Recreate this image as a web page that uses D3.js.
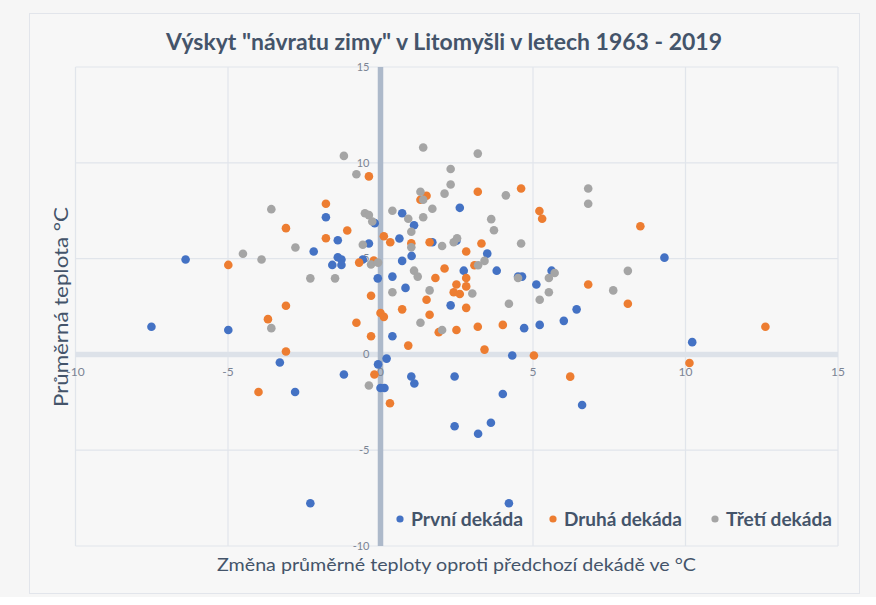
<!DOCTYPE html>
<html>
<head>
<meta charset="utf-8">
<script src="https://cdn.jsdelivr.net/npm/d3@7"></script>
<style>
  html, body { margin: 0; padding: 0; background: #f6f6f6; }
  svg { display: block; font-family: Lato, "Noto Sans", sans-serif; }
</style>
</head>
<body>
<div id="chart"></div>
<script>
// Data: [změna teploty oproti předchozí dekádě, průměrná teplota]
const prvniDekada = [
  [-6.39, 4.95], [-7.51, 1.44], [-4.99, 1.27], [-1.79, 7.16], [-1.40, 5.96],
  [-2.19, 5.37], [-1.40, 5.07], [-1.28, 4.95], [-1.58, 4.67], [-1.28, 4.67],
  [-0.58, 4.95], [-0.38, 5.79], [-0.19, 6.85], [-0.09, 3.97], [-3.30, -0.42],
  [0.71, 7.37], [2.60, 7.65], [1.10, 6.74], [0.62, 6.05], [1.70, 5.85],
  [2.49, 5.93], [1.02, 5.14], [0.71, 4.88], [3.50, 5.26], [0.39, 4.06],
  [0.82, 3.47], [2.73, 4.37], [3.81, 4.37], [4.51, 4.06], [4.64, 4.06],
  [5.11, 3.65], [5.61, 4.37], [2.30, 2.56], [0.39, 0.95], [6.43, 2.35],
  [6.01, 1.75], [5.22, 1.54], [4.71, 1.37], [4.32, -0.06], [0.20, -0.22],
  [9.31, 5.05], [10.22, 0.64], [-1.20, -1.05], [-0.08, -0.52], [0.00, -1.75],
  [0.13, -1.75], [-2.80, -1.96], [1.01, -1.15], [1.11, -1.52], [2.43, -1.15],
  [4.01, -2.07], [2.43, -3.75], [3.20, -4.14], [3.62, -3.57], [-2.30, -7.77],
  [4.21, -7.77], [6.61, -2.64]
];
const druhaDekada = [
  [-0.38, 9.29], [-1.79, 7.86], [-3.10, 6.59], [-1.79, 6.06], [-1.09, 6.47],
  [0.11, 6.17], [-4.99, 4.67], [-0.70, 4.79], [-0.22, 4.90], [-0.31, 3.06],
  [-3.10, 2.54], [-3.69, 1.84], [-0.79, 1.65], [0.00, 2.16], [0.11, 1.96],
  [-0.31, 0.95], [-3.10, 0.15], [1.31, 8.07], [1.51, 8.28], [3.19, 8.49],
  [4.61, 8.66], [5.21, 7.48], [5.30, 7.08], [0.32, 5.85], [1.01, 5.80],
  [1.61, 5.85], [3.31, 5.79], [2.81, 5.37], [3.08, 4.65], [2.10, 4.48],
  [1.80, 3.99], [2.81, 3.99], [2.49, 3.65], [2.81, 3.55], [2.40, 3.24],
  [2.60, 3.15], [1.51, 2.85], [2.81, 2.43], [0.71, 2.35], [1.61, 2.07],
  [6.81, 3.65], [4.01, 1.54], [3.19, 1.44], [2.49, 1.27], [1.91, 1.16],
  [0.91, 0.46], [3.41, 0.25], [5.03, -0.06], [8.52, 6.69], [8.11, 2.64],
  [12.62, 1.44], [10.13, -0.45], [6.22, -1.16], [-0.20, -1.05], [0.31, -2.55],
  [-4.00, -1.96]
];
const tretiDekada = [
  [-1.20, 10.36], [-0.79, 9.40], [-3.58, 7.58], [-0.51, 7.37], [-0.38, 7.27],
  [-0.27, 6.94], [-2.79, 5.58], [-4.51, 5.25], [-3.90, 4.95], [-0.58, 5.72],
  [-0.31, 4.69], [-0.08, 4.79], [-2.30, 3.97], [-1.49, 3.97], [-3.58, 1.37],
  [1.40, 10.80], [3.19, 10.48], [2.30, 9.68], [2.30, 8.87], [1.31, 8.49],
  [2.10, 8.39], [1.40, 8.07], [4.11, 8.30], [6.81, 8.66], [6.81, 7.86],
  [0.39, 7.50], [1.70, 7.60], [0.91, 7.08], [1.40, 7.16], [1.01, 6.40],
  [3.63, 7.06], [3.72, 6.48], [1.01, 5.59], [2.02, 5.66], [2.40, 5.85],
  [2.51, 6.06], [4.61, 5.79], [3.41, 4.88], [3.20, 4.65], [1.10, 4.37],
  [1.22, 4.06], [0.39, 3.24], [1.61, 3.34], [3.01, 3.18], [4.51, 3.99],
  [5.52, 3.99], [5.71, 4.25], [5.52, 3.24], [5.22, 2.85], [4.21, 2.64],
  [1.31, 1.65], [2.02, 1.27], [8.11, 4.36], [7.63, 3.34], [-0.38, -1.62]
];

const seriesNames = ["První dekáda", "Druhá dekáda", "Třetí dekáda"];
const seriesColors = ["#4472c4", "#ed7d31", "#a5a5a5"];
const xTicks = [-10, -5, 0, 5, 10, 15];
const yTicks = [-10, -5, 0, 5, 10, 15];

const series = [prvniDekada, druhaDekada, tretiDekada];

const width = 876;
const height = 605;
const textColor = "#44546a";

const svg = d3.select("#chart")
  .append("svg")
  .attr("width", width)
  .attr("height", height);

// page + chart frame
svg.append("rect").attr("width", width).attr("height", height).attr("fill", "#f6f6f6");
svg.append("rect").attr("x", 0).attr("y", 597).attr("width", width).attr("height", 8).attr("fill", "#ffffff");
svg.append("rect")
  .attr("x", 29.5).attr("y", 13.5)
  .attr("width", 830).attr("height", 580)
  .attr("fill", "#f7f7f7")
  .attr("stroke", "#e2e5eb")
  .attr("stroke-width", 1);

// scales
const x = d3.scaleLinear().domain([-10, 15]).range([75.5, 838]);
const y = d3.scaleLinear().domain([-10, 15]).range([546, 67]);

// gridlines
const grid = svg.append("g").attr("stroke", "#e1e5eb").attr("stroke-width", 1.2);
grid.selectAll("line.v").data(xTicks).join("line")
  .attr("class", "v")
  .attr("x1", d => x(d)).attr("x2", d => x(d))
  .attr("y1", y(15)).attr("y2", y(-10));
grid.selectAll("line.h").data(yTicks).join("line")
  .attr("class", "h")
  .attr("x1", x(-10)).attr("x2", x(15))
  .attr("y1", d => y(d)).attr("y2", d => y(d));

// zero axes (thick bars)
svg.append("line")
  .attr("x1", x(-10)).attr("x2", x(15))
  .attr("y1", y(0)).attr("y2", y(0))
  .attr("stroke", "#dde2e9").attr("stroke-width", 5.5);
svg.append("line")
  .attr("x1", x(0)).attr("x2", x(0))
  .attr("y1", y(15)).attr("y2", y(-10))
  .attr("stroke", "#adb9ca").attr("stroke-width", 5.5);

// tick labels
svg.append("g").selectAll("text").data(yTicks).join("text")
  .attr("x", x(0) - 11)
  .attr("y", d => y(d))
  .attr("dy", "0.35em")
  .attr("text-anchor", "end")
  .attr("font-size", 11)
  .attr("fill", "#7b8494")
  .text(d => d);
svg.append("g").selectAll("text").data(xTicks).join("text")
  .attr("x", d => x(d))
  .attr("y", y(0) + 17)
  .attr("dy", "0.35em")
  .attr("text-anchor", "middle")
  .attr("font-size", 12)
  .attr("fill", "#7b8494")
  .text(d => d);

// points
series.forEach((data, i) => {
  svg.append("g")
    .attr("fill", seriesColors[i])
    .selectAll("circle")
    .data(data)
    .join("circle")
    .attr("cx", d => x(d[0]))
    .attr("cy", d => y(d[1]))
    .attr("r", 4.3);
});

// title
svg.append("text")
  .attr("x", 444).attr("y", 50)
  .attr("text-anchor", "middle")
  .attr("font-size", 23)
  .attr("font-weight", "bold")
  .attr("fill", textColor)
  .attr("textLength", 556)
  .attr("lengthAdjust", "spacingAndGlyphs")
  .text('Výskyt "návratu zimy" v Litomyšli v letech 1963 - 2019');

// axis titles
svg.append("text")
  .attr("x", 456.5).attr("y", 571)
  .attr("text-anchor", "middle")
  .attr("font-size", 18)
  .attr("fill", textColor)
  .attr("textLength", 479)
  .attr("lengthAdjust", "spacingAndGlyphs")
  .text("Změna průměrné teploty oproti předchozí dekádě ve °C");

svg.append("text")
  .attr("transform", "translate(68,307) rotate(-90)")
  .attr("text-anchor", "middle")
  .attr("font-size", 20)
  .attr("fill", textColor)
  .attr("textLength", 200)
  .attr("lengthAdjust", "spacingAndGlyphs")
  .text("Průměrná teplota °C");

// legend
const legendDotX = [400, 553, 715];
const legendTextLen = [112, 118, 106];
const legend = svg.append("g");
seriesNames.forEach((name, i) => {
  legend.append("circle")
    .attr("cx", legendDotX[i]).attr("cy", 519)
    .attr("r", 3.6)
    .attr("fill", seriesColors[i]);
  legend.append("text")
    .attr("x", legendDotX[i] + 11).attr("y", 525.5)
    .attr("font-size", 19)
    .attr("font-weight", "bold")
    .attr("fill", textColor)
    .attr("textLength", legendTextLen[i])
    .attr("lengthAdjust", "spacingAndGlyphs")
    .text(name);
});
</script>
</body>
</html>
